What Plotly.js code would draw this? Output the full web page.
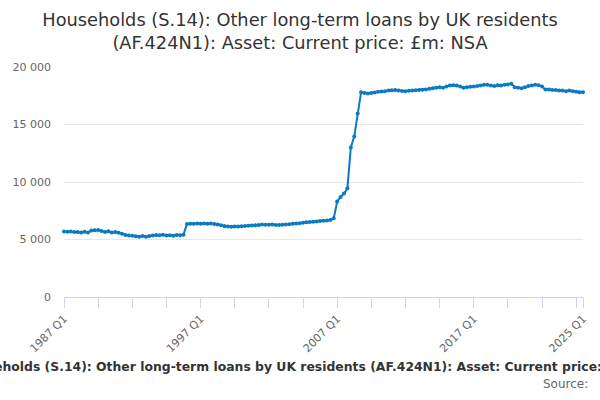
<!DOCTYPE html>
<html>
<head>
<meta charset="utf-8">
<script src="https://cdn.plot.ly/plotly-3.0.1.min.js"></script>
<style>html,body{margin:0;padding:0;background:#fff;}#chart{width:600px;height:400px;}</style>
</head>
<body>
<div id="chart"></div>
<script>
// Quarterly series 1987 Q1 .. 2025 Q1, £m
const startYear = 1987;
const values = [
  5700, 5680, 5700, 5660,   // 1987
  5650, 5600, 5680, 5600,   // 1988
  5780, 5800, 5820, 5750,   // 1989
  5650, 5720, 5600, 5650,   // 1990
  5580, 5500, 5400, 5350,   // 1991
  5330, 5280, 5250, 5300,   // 1992
  5250, 5300, 5350, 5400,   // 1993
  5380, 5420, 5350, 5360,   // 1994
  5330, 5400, 5380, 5420,   // 1995
  6350, 6380, 6370, 6390,   // 1996
  6380, 6400, 6370, 6390,   // 1997
  6350, 6300, 6250, 6150,   // 1998
  6120, 6100, 6130, 6120,   // 1999
  6150, 6180, 6200, 6220,   // 2000
  6250, 6270, 6300, 6290,   // 2001
  6280, 6300, 6260, 6270,   // 2002
  6280, 6300, 6330, 6380,   // 2003
  6400, 6420, 6450, 6500,   // 2004
  6520, 6550, 6560, 6600,   // 2005
  6620, 6650, 6700, 6850,   // 2006
  8300, 8700, 9000, 9450,   // 2007
  13000, 13950, 15950, 17800, // 2008
  17750, 17700, 17750, 17780, // 2009
  17850, 17880, 17900, 17950, // 2010
  17980, 18000, 17950, 17920, // 2011
  17900, 17930, 17950, 17980, // 2012
  18000, 18020, 18050, 18100, // 2013
  18150, 18200, 18250, 18200, // 2014
  18300, 18400, 18420, 18400, // 2015
  18300, 18200, 18250, 18280, // 2016
  18300, 18350, 18400, 18450, // 2017
  18450, 18400, 18350, 18420, // 2018
  18400, 18450, 18480, 18550, // 2019
  18250, 18200, 18150, 18250, // 2020
  18350, 18400, 18450, 18420, // 2021
  18300, 18050, 18050, 18000, // 2022
  18000, 17950, 17950, 17900, // 2023
  17950, 17900, 17850, 17800, // 2024
  17800                       // 2025
];
const labeledTicks = ["1987 Q1", "1997 Q1", "2007 Q1", "2017 Q1", "2025 Q1"];
const yTicks = [0, 5000, 10000, 15000, 20000];
const titleText = "Households (S.14): Other long-term loans by UK residents (AF.424N1): Asset: Current price: £m: NSA";

const categories = values.map((v, i) => (startYear + Math.floor(i / 4)) + " Q" + (i % 4 + 1));
const tickvals = [];
for (let i = 0; i < categories.length - 1; i += 10) tickvals.push(categories[i]);
tickvals.push(categories[categories.length - 1]);
const ticktext = tickvals.map(c => labeledTicks.includes(c) ? c : "");

const font = "DejaVu Sans, sans-serif";
const trace = {
  x: categories, y: values, type: "scatter", mode: "lines+markers",
  line: {color: "#0a7bc2", width: 2},
  marker: {color: "#0a7bc2", size: 4},
  cliponaxis: false, hoverinfo: "x+y"
};
const layout = {
  width: 600, height: 400,
  margin: {l: 64, r: 17, t: 67, b: 103},
  paper_bgcolor: "#fff", plot_bgcolor: "#fff",
  separators: ". ",
  font: {family: font, color: "#666", size: 11},
  title: {
    text: "Households (S.14): Other long-term loans by UK residents<br>(AF.424N1): Asset: Current price: £m: NSA",
    x: 0.5, xanchor: "center", y: 0.935, yanchor: "top", yref: "container",
    font: {family: font, size: 17.8, color: "#333"}
  },
  showlegend: false,
  xaxis: {
    type: "category", range: [0, categories.length - 1],
    tickmode: "array", tickvals: tickvals, ticktext: ticktext,
    tickangle: -45, ticks: "outside", ticklen: 10, tickcolor: "#ccd6eb", tickwidth: 1,
    showline: true, linecolor: "#ccd6eb", linewidth: 1,
    showgrid: false, zeroline: false,
    tickfont: {family: font, size: 11, color: "#666"}
  },
  yaxis: {
    range: [0, 20000], tickmode: "array", tickvals: yTicks, tickformat: ",d",
    showgrid: true, gridcolor: "#e6e6e6", gridwidth: 1,
    zeroline: false, showline: false, ticks: "", ticklabelstandoff: 12,
    tickfont: {family: font, size: 11, color: "#666"}
  },
  annotations: [
    {text: "<b>" + titleText + "</b>", xref: "paper", yref: "paper", x: 0.478, y: -0.304,
     xanchor: "center", yanchor: "middle", showarrow: false,
     font: {family: font, size: 12.4, color: "#333"}},
    {text: "Source:", xref: "paper", yref: "paper", x: 1.0135, y: -0.378,
     xanchor: "right", yanchor: "middle", showarrow: false,
     font: {family: font, size: 12, color: "#666"}}
  ]
};
Plotly.newPlot("chart", [trace], layout, {displayModeBar: false, responsive: false});
</script>
</body>
</html>
